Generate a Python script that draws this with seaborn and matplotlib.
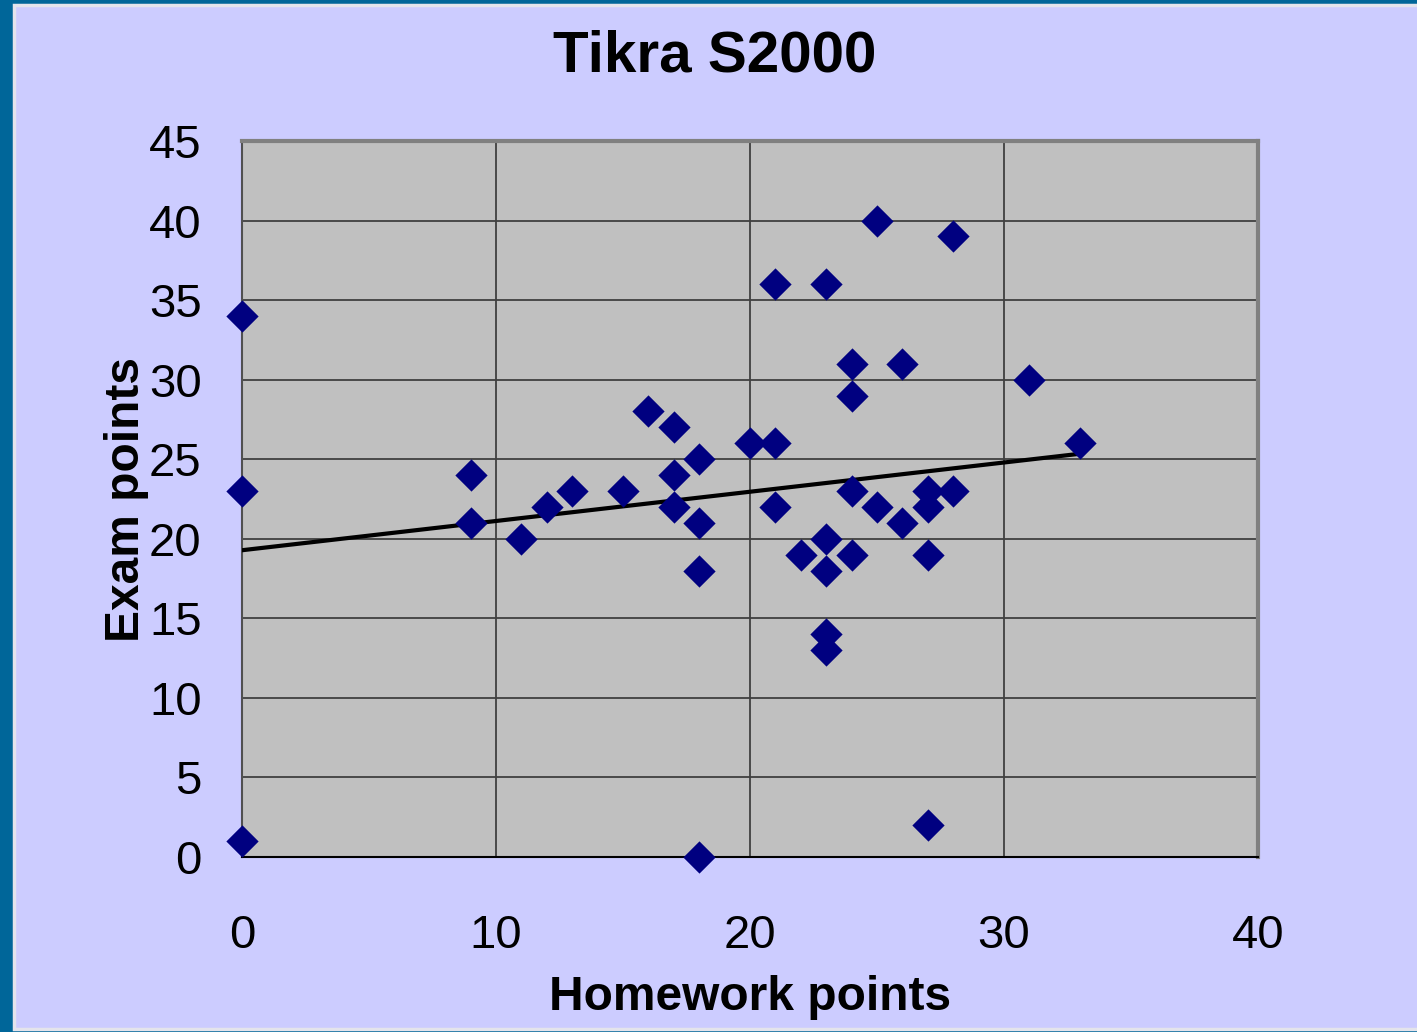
import matplotlib
matplotlib.use("Agg")
import matplotlib.pyplot as plt
import matplotlib.patches as mpatches
import pandas as pd
import seaborn as sns

homework = [0, 0, 0, 9, 9, 11, 12, 13, 15, 16, 17, 17, 17, 18, 18, 18, 18, 20,
            21, 21, 21, 22, 23, 23, 23, 23, 23, 24, 24, 24, 24, 25, 25, 26, 26,
            27, 27, 27, 27, 28, 28, 31, 33]
exam = [34, 23, 1, 24, 21, 20, 22, 23, 23, 28, 27, 24, 22, 25, 21, 18, 0, 26,
        36, 26, 22, 19, 36, 20, 18, 14, 13, 31, 29, 23, 19, 40, 22, 31, 21,
        23, 22, 19, 2, 39, 23, 30, 26]
x_ticks = [0, 10, 20, 30, 40]
y_ticks = [0, 5, 10, 15, 20, 25, 30, 35, 40, 45]

sns.set_style("white")
plt.rcParams["font.family"] = ["Liberation Sans", "DejaVu Sans"]
plt.rcParams["text.color"] = "black"
plt.rcParams["axes.labelcolor"] = "black"
plt.rcParams["xtick.labelcolor"] = "black"
plt.rcParams["ytick.labelcolor"] = "black"

df = pd.DataFrame({"Homework points": homework, "Exam points": exam})

fig = plt.figure(figsize=(14.17, 10.32), dpi=100)
fig.patch.set_facecolor("#006699")
# lavender slide panel with thin light edge
fig.patches.append(mpatches.Rectangle((14 / 1417, 3 / 1032), 1.0, 1 - 8 / 1032,
                                      transform=fig.transFigure, facecolor="#CCCCFF",
                                      edgecolor="#E4E4EC", linewidth=2.5, zorder=-5))

ax = fig.add_axes([242 / 1417, 1 - 857 / 1032, (1258 - 242) / 1417, (857 - 141) / 1032])
ax.set_facecolor("#C0C0C0")

sns.regplot(data=df, x="Homework points", y="Exam points", ax=ax, ci=None,
            marker="D", scatter_kws=dict(color="#000080", alpha=1, s=270, linewidths=0,
                                         zorder=4, clip_on=False),
            line_kws=dict(color="black", linewidth=3, zorder=3))

ax.set_xlim(0, 40)
ax.set_ylim(0, 45)
ax.set_xticks(x_ticks)
ax.set_yticks(y_ticks)
ax.grid(True, color="#404040", linewidth=1.3)
ax.set_axisbelow(True)
ax.tick_params(axis="both", direction="out", length=12, width=1.5, color="#404040",
               labelsize=34)
ax.tick_params(axis="y", pad=17)
ax.tick_params(axis="x", pad=29)

for side in ("top", "right"):
    ax.spines[side].set_color("#808080")
    ax.spines[side].set_linewidth(3)
ax.spines["left"].set_color("#505050")
ax.spines["left"].set_linewidth(1.5)
ax.spines["bottom"].set_color("black")
ax.spines["bottom"].set_linewidth(1.5)

ax.set_xlabel("Homework points", fontsize=34.5, fontweight="bold", labelpad=12)
ax.set_ylabel("Exam points", fontsize=34.5, fontweight="bold", labelpad=0)
fig.text(715 / 1417, 1 - 56 / 1032, "Tikra S2000", fontsize=42, fontweight="bold",
         ha="center", va="center")

fig.savefig("out.png", dpi=100, facecolor=fig.get_facecolor())
